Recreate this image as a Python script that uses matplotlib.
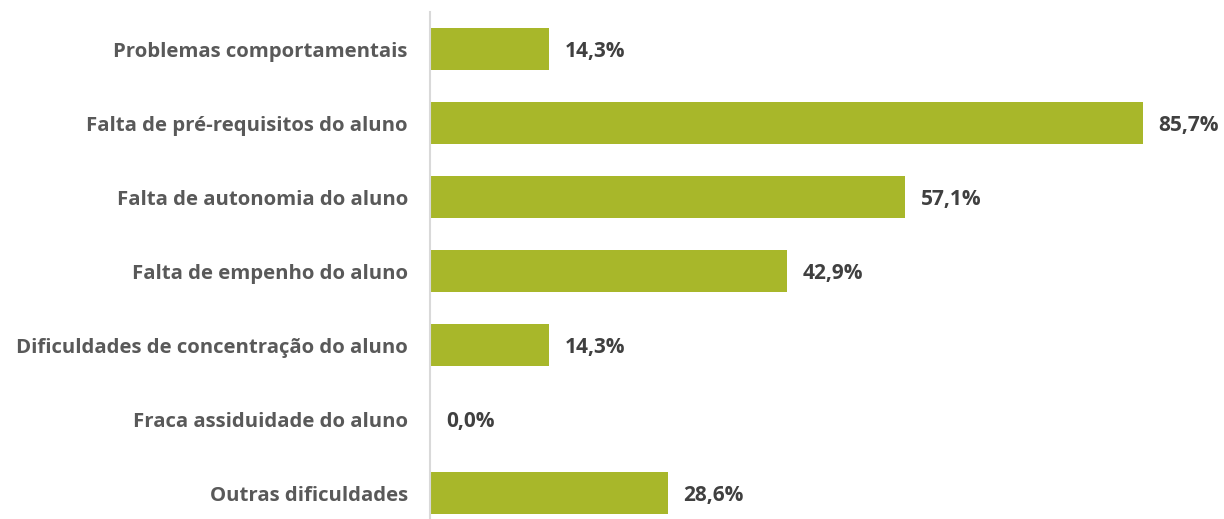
import matplotlib
matplotlib.use("Agg")
import matplotlib.pyplot as plt

categories = [
    "Problemas comportamentais",
    "Falta de pré-requisitos do aluno",
    "Falta de autonomia do aluno",
    "Falta de empenho do aluno",
    "Dificuldades de concentração do aluno",
    "Fraca assiduidade do aluno",
    "Outras dificuldades",
]
values = [14.3, 85.7, 57.1, 42.9, 14.3, 0.0, 28.6]
value_labels = ["14,3%", "85,7%", "57,1%", "42,9%", "14,3%", "0,0%", "28,6%"]

BAR = "#A8B72A"
plt.rcParams["font.family"] = ["Open Sans", "DejaVu Sans"]

fig = plt.figure(figsize=(12.24, 5.19), dpi=100)
ax = fig.add_axes([0.3513, -0.0212, 0.6487, 0.998])
y = range(len(categories))
ax.barh(y, values, height=0.57, color=BAR)
for yi, v, lab in zip(y, values, value_labels):
    ax.text(v + 1.9, yi + 0.04, lab, va="center", ha="left", fontsize=15,
            fontweight="bold", color="#404040")

ax.set_xlim(0, 95.5)
ax.set_ylim(6.5, -0.5)
ax.set_yticks(list(y))
ax.set_yticklabels(categories, fontsize=14.7, fontweight="bold", color="#595959")
for t in ax.get_yticklabels():
    t.set_y(t.get_position()[1])
ax.tick_params(axis="y", length=0, pad=16)
ax.set_xticks([])
for s in ("top", "right", "bottom"):
    ax.spines[s].set_visible(False)
ax.spines["left"].set_color("#D9D9D9")
ax.spines["left"].set_linewidth(1.5)

fig.savefig("out.png", dpi=100)
